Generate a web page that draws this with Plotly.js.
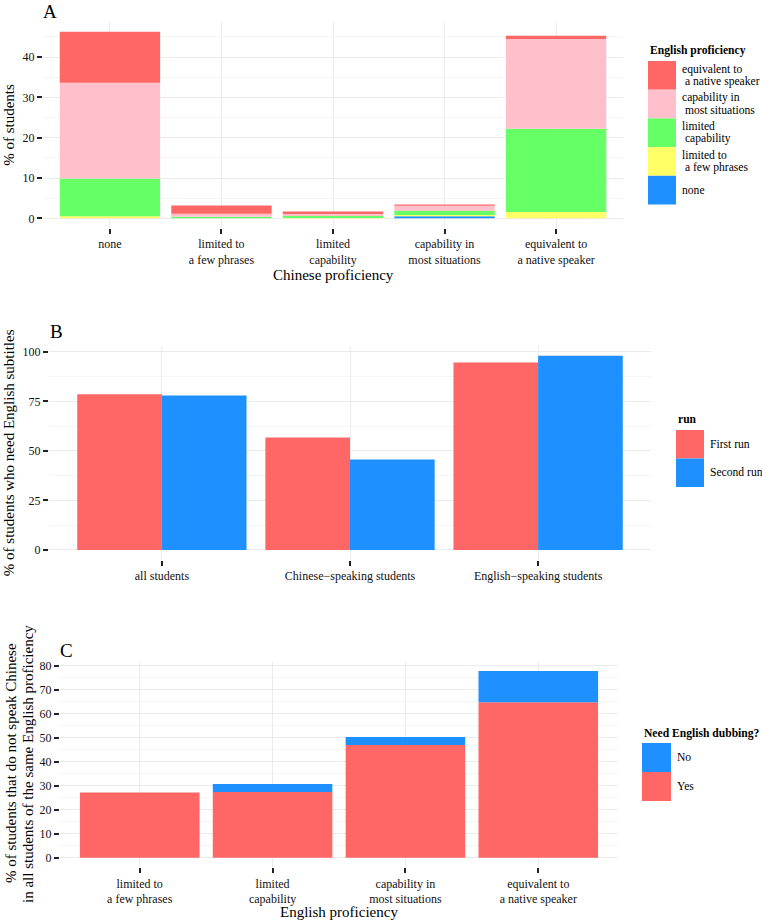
<!DOCTYPE html>
<html>
<head>
<meta charset="utf-8">
<script src="https://cdn.plot.ly/plotly-3.0.1.min.js"></script>
<style>
  html, body { margin: 0; padding: 0; background: #fff; }
  #plot { width: 762px; height: 923px; }
</style>
</head>
<body>
<div id="plot"></div>
<script>
// Panel A: Chinese proficiency (x) stacked by English proficiency
const chineseLevels = ['none', 'limited to<br>a few phrases', 'limited<br>capability',
  'capability in<br>most situations', 'equivalent to<br>a native speaker'];
const engNone    = [0,    0,    0,    0.5,  0];
const engFew     = [0.5,  0.05, 0.1,  0.3,  1.6];
const engLimited = [9.4,  0.35, 0.5,  1.05, 20.6];
const engMost    = [23.7, 0.75, 0.5,  1.3,  22.3];
const engNative  = [12.7, 2.05, 0.6,  0.25, 0.8];
const engNames = ['none', 'limited to<br>\u00a0a few phrases', 'limited<br>\u00a0capability',
  'capability in<br>\u00a0most situations', 'equivalent to<br>\u00a0a native speaker'];
const engColors = ['#1E90FF', '#FFFF66', '#66FF66', '#FFC0CB', '#FF6666'];

// Panel B: need English subtitles, by run
const groupsB = ['all students', 'Chinese\u2212speaking students', 'English\u2212speaking students'];
const firstRun  = [78.6, 56.7, 94.6];
const secondRun = [77.9, 45.6, 98.0];
const runNames = ['First run', 'Second run'];
const runColors = ['#FF6666', '#1E90FF'];

// Panel C: non-Chinese speakers by English proficiency, split by dubbing need
const engLevelsC = ['limited to<br>a few phrases', 'limited<br>capability',
  'capability in<br>most situations', 'equivalent to<br>a native speaker'];
const dubYes = [27.2, 27.4, 47.0, 64.8];
const dubNo  = [0,    3.3,  3.3,  13.0];
const dubNames = ['No', 'Yes'];
const dubColors = ['#1E90FF', '#FF6666'];

const W = 762, H = 923;
const px = v => v / W;
const py = v => 1 - v / H;
const serif = '"Liberation Serif", "Times New Roman", serif';

const traces = [];

// stacked bars for A
const seriesA = [engNone, engFew, engLimited, engMost, engNative];
let baseA = chineseLevels.map(() => 0);
seriesA.forEach((vals, i) => {
  traces.push({
    type: 'bar', x: chineseLevels, y: vals, base: baseA.slice(),
    width: 0.9, offsetgroup: 'A', marker: { color: engColors[i], line: { width: 0 } },
    xaxis: 'x', yaxis: 'y', showlegend: false
  });
  baseA = baseA.map((b, k) => b + vals[k]);
});

// dodged bars for B
[firstRun, secondRun].forEach((vals, i) => {
  traces.push({
    type: 'bar', x: groupsB, y: vals, width: 0.45, offset: i === 0 ? -0.45 : 0,
    marker: { color: runColors[i], line: { width: 0 } },
    xaxis: 'x2', yaxis: 'y2', showlegend: false, name: runNames[i]
  });
});

// stacked bars for C (Yes at bottom, No on top)
traces.push({
  type: 'bar', x: engLevelsC, y: dubYes, width: 0.9, offsetgroup: 'C',
  marker: { color: dubColors[1], line: { width: 0 } },
  xaxis: 'x3', yaxis: 'y3', showlegend: false, name: 'Yes'
});
traces.push({
  type: 'bar', x: engLevelsC, y: dubNo, base: dubYes, width: 0.9, offsetgroup: 'C',
  marker: { color: dubColors[0], line: { width: 0 } },
  xaxis: 'x3', yaxis: 'y3', showlegend: false, name: 'No'
});

const tickFont = { family: serif, size: 12, color: '#111' };
const titleFont = { family: serif, size: 15, color: '#000' };

function xAxis(domain, range, anchor) {
  return {
    domain: domain, range: range, anchor: anchor, type: 'category',
    showgrid: true, gridcolor: '#EBEBEB', gridwidth: 1, zeroline: false, showline: false,
    ticks: 'outside', ticklen: 5, tickwidth: 2, tickcolor: '#222',
    tickfont: tickFont, automargin: false
  };
}
function yAxis(domain, range, anchor, dtick, title) {
  return {
    domain: domain, range: range, anchor: anchor,
    tickmode: 'linear', tick0: 0, dtick: dtick,
    showgrid: true, gridcolor: '#EBEBEB', gridwidth: 1, zeroline: false, showline: false,
    ticks: 'outside', ticklen: 5, tickwidth: 2, tickcolor: '#222',
    tickfont: tickFont, automargin: false,
    minor: { showgrid: true, gridcolor: '#F5F5F5', dtick: dtick / 2, tick0: 0, ticks: '' },
    title: { text: title, font: titleFont, standoff: 4 }
  };
}

const annotations = [];
const shapes = [];

function label(t, x, y, opts) {
  annotations.push(Object.assign({ xref: 'paper', yref: 'paper', x: px(x), y: py(y), text: t,
    showarrow: false, xanchor: 'center', yanchor: 'middle', font: titleFont }, opts || {}));
}
const letterFont = { family: serif, size: 19, color: '#000' };
label('A', 50, 12, { font: letterFont });
label('B', 56, 331, { font: letterFont });
label('C', 66, 650, { font: letterFont });

// axis titles placed as in the reference
label('Chinese proficiency', 333, 275);
label('English proficiency', 339, 912);
label('% of students that do not speak Chinese', 11, 763, { textangle: -90 });
label('in all students of the same English proficiency', 28, 764, { textangle: -90 });

// legend boxes drawn from the series lists
const legFont = { family: serif, size: 11.6, color: '#000' };
function legend(title, names, colors, x0, titleY, top, boxW, boxH) {
  label('<b>' + title + '</b>', x0, titleY, { xanchor: 'left', font: { family: serif, size: 11.6, color: '#000' } });
  names.forEach((n, i) => {
    const y0 = top + i * boxH;
    shapes.push({ type: 'rect', xref: 'paper', yref: 'paper', x0: px(x0), x1: px(x0 + boxW),
      y0: py(y0), y1: py(y0 + boxH), fillcolor: colors[i], line: { width: 0 } });
    const lines = n.split('<br>');
    lines.forEach((ln, j) => {
      const yc = y0 + boxH / 2 + (j - (lines.length - 1) / 2) * 12.4;
      label(ln, x0 + boxW + 4, yc, { xanchor: 'left', font: legFont });
    });
  });
}
legend('English proficiency', engNames.slice().reverse(), engColors.slice().reverse(), 648, 50, 61, 28, 28.7);
legend('run', runNames, runColors, 676, 419, 430, 28, 28.5);
legend('Need English dubbing?', dubNames, dubColors, 642, 733, 743, 29, 29);

const layout = {
  width: W, height: H,
  margin: { l: 0, r: 0, t: 0, b: 0 },
  paper_bgcolor: '#fff', plot_bgcolor: '#fff',
  barmode: 'group',
  showlegend: false,
  font: { family: serif },
  xaxis: xAxis([px(43), px(623)], [-0.6, 4.6], 'y'),
  yaxis: yAxis([py(227.6), py(22.4)], [-2.3, 48.6], 'x', 10, '% of students'),
  xaxis2: xAxis([px(49), px(651)], [-0.6, 2.6], 'y2'),
  yaxis2: yAxis([py(559.7), py(346)], [-4.9, 102.9], 'x2', 25, '% of students who need English subtitles'),
  xaxis3: xAxis([px(60), px(618)], [-0.6, 3.6], 'y3'),
  yaxis3: yAxis([py(867.1), py(661.6)], [-3.9, 81.7], 'x3', 10, ''),
  annotations: annotations,
  shapes: shapes
};

Plotly.newPlot('plot', traces, layout, { staticPlot: true });
</script>
</body>
</html>
